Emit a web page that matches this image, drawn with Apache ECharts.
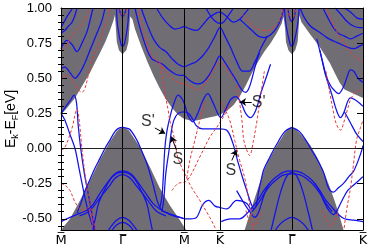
<!DOCTYPE html>
<html><head><meta charset="utf-8">
<script src="https://cdn.jsdelivr.net/npm/echarts@6/dist/echarts.min.js"></script>
<style>html,body{margin:0;padding:0;background:#fff}#c{width:374px;height:248px}</style>
</head><body><div id="c"></div>
<script>
// ---- axes ----
const kTicks = [0, 1, 2, 2.58, 3.745, 4.9];
const kLabels = ['M\u0305', '\u0393\u0305', 'M\u0305', 'K\u0305', '\u0393\u0305', 'K\u0305'];
const eTicks = [-0.5, -0.25, 0, 0.25, 0.5, 0.75, 1.0];
const eMinor = [-0.55,-0.45,-0.4,-0.35,-0.3,-0.2,-0.15,-0.1,-0.05,0.05,0.1,0.15,0.2,0.3,0.35,0.4,0.45,0.55,0.6,0.65,0.7,0.8,0.85,0.9,0.95];

// ---- projected bulk regions ----
const conductionEdge = [[0,0.24],[0.1,0.29],[0.227,0.36],[0.35,0.45],[0.47,0.54],[0.55,0.61],[0.632,0.68],[0.72,0.76],[0.794,0.84],[0.85,0.91],[0.875,0.95],[0.885,0.95],[0.89,0.86],[0.905,0.76],[0.94,0.70],[1.0,0.67],[1.06,0.70],[1.095,0.76],[1.11,0.86],[1.12,0.94],[1.14,0.95],[1.16,0.92],[1.2,0.85],[1.3,0.73],[1.4,0.62],[1.5,0.52],[1.6,0.43],[1.7,0.35],[1.8,0.29],[1.9,0.24],[2.0,0.21],[2.1,0.20],[2.2,0.20],[2.3,0.21],[2.4,0.22],[2.5,0.23],[2.58,0.24],[2.7,0.27],[2.8,0.31],[2.9,0.37],[3.0,0.45],[3.1,0.54],[3.2,0.62],[3.3,0.69],[3.4,0.75],[3.5,0.82],[3.58,0.89],[3.61,0.94],[3.625,0.95],[3.635,0.86],[3.65,0.76],[3.69,0.70],[3.745,0.67],[3.8,0.70],[3.84,0.76],[3.855,0.86],[3.865,0.95],[3.88,0.95],[3.9,0.90],[4.03,0.82],[4.2,0.72],[4.36,0.61],[4.45,0.53],[4.52,0.47],[4.6,0.42],[4.75,0.39],[4.9,0.36]];
const valenceEdge = [[0,-0.58],[0.03,-0.58],[0.146,-0.50],[0.308,-0.37],[0.47,-0.23],[0.632,-0.08],[0.794,0.05],[0.9,0.12],[0.95,0.14],[1.0,0.15],[1.05,0.145],[1.1,0.13],[1.28,0.01],[1.44,-0.13],[1.6,-0.28],[1.76,-0.40],[1.93,-0.51],[2.03,-0.58],[2.98,-0.58],[3.094,-0.42],[3.191,-0.29],[3.289,-0.16],[3.386,-0.07],[3.499,0.02],[3.628,0.11],[3.69,0.14],[3.745,0.15],[3.8,0.14],[3.872,0.11],[4.05,0.02],[4.163,-0.07],[4.26,-0.16],[4.357,-0.27],[4.438,-0.37],[4.519,-0.48],[4.584,-0.58],[4.9,-0.58]];

// ---- slab bands (blue, solid) ----
const bandMG1 = [[0,0.86],[0.05,0.90],[0.1,0.94],[0.16,0.98],[0.19,1.0]];
const bandMG2 = [[0,0.82],[0.06,0.84],[0.12,0.87],[0.18,0.90],[0.22,0.94],[0.26,1.0]];
const bandMG3 = [[0,0.71],[0.097,0.77],[0.178,0.74],[0.259,0.69],[0.34,0.75],[0.421,0.83],[0.47,0.91],[0.518,1.0]];
const bandMG4 = [[0,0.57],[0.065,0.58],[0.146,0.54],[0.227,0.50],[0.308,0.54],[0.389,0.61],[0.47,0.70],[0.583,0.82],[0.664,0.91],[0.713,1.0]];
const bandMG5 = [[0,0.25],[0.065,0.20],[0.146,0.10],[0.227,0.0],[0.292,-0.14],[0.356,-0.28],[0.437,-0.44],[0.518,-0.56],[0.551,-0.6]];
const bandMG6 = [[0,0.25],[0.08,0.30],[0.162,0.35],[0.21,0.38],[0.25,0.33],[0.28,0.16],[0.32,0.0],[0.38,-0.18],[0.44,-0.32],[0.5,-0.46],[0.56,-0.6]];
const bandArc1a = [[0,-0.52],[0.146,-0.49],[0.308,-0.46],[0.421,-0.44],[0.518,-0.40],[0.632,-0.32],[0.761,-0.24],[0.875,-0.18],[1.0,-0.16],[1.134,-0.18],[1.247,-0.24],[1.377,-0.32],[1.49,-0.39],[1.604,-0.43],[1.733,-0.46],[1.863,-0.48],[2.0,-0.50]];
const bandArc1b = [[0.3,-0.48],[0.45,-0.45],[0.55,-0.40],[0.65,-0.34],[0.78,-0.27],[0.88,-0.21],[1.0,-0.185],[1.12,-0.21],[1.23,-0.27],[1.36,-0.34],[1.46,-0.40],[1.56,-0.45],[1.7,-0.48]];
const bandEdge1 = [[0.26,-0.46],[0.33,-0.38],[0.389,-0.30],[0.47,-0.22],[0.55,-0.14],[0.632,-0.07],[0.713,0.0],[0.794,0.06],[0.875,0.12],[0.94,0.145],[1.0,0.15],[1.06,0.145],[1.118,0.135],[1.231,0.06],[1.312,-0.02],[1.393,-0.107],[1.49,-0.25],[1.571,-0.386],[1.636,-0.44],[1.72,-0.46],[1.83,-0.48],[1.93,-0.49],[2.0,-0.50]];
const bandDeep1 = [[0.74,-0.6],[0.82,-0.55],[0.9,-0.51],[1.0,-0.49],[1.1,-0.51],[1.18,-0.55],[1.26,-0.6]];
const bandDeep1b = [[0.8,-0.6],[0.9,-0.545],[1.0,-0.525],[1.1,-0.545],[1.2,-0.6]];
const bandSteep1 = [[0.51,-0.6],[0.56,-0.49],[0.61,-0.39],[0.7,-0.30],[0.8,-0.22],[0.9,-0.18],[1.0,-0.17],[1.1,-0.18],[1.2,-0.22],[1.3,-0.30],[1.39,-0.39],[1.44,-0.49],[1.49,-0.6]];
const bandTongue1 = [[0.90,1.0],[0.92,0.87],[0.975,0.74],[1.0,0.73],[1.025,0.74],[1.08,0.87],[1.1,1.0]];
const bandTop1 = [[0.94,1.0],[0.97,0.955],[1.0,0.94],[1.03,0.955],[1.06,1.0]];
const bandGM1 = [[1.2,1.0],[1.28,0.86],[1.39,0.71],[1.47,0.64],[1.55,0.62],[1.65,0.60],[1.75,0.56],[1.85,0.53],[1.93,0.52],[2.0,0.52]];
const bandGM2 = [[1.3,1.0],[1.4,0.88],[1.5,0.78],[1.6,0.72],[1.7,0.69],[1.8,0.64],[1.9,0.60],[2.0,0.58]];
const bandGM3 = [[1.55,1.0],[1.65,0.93],[1.75,0.88],[1.85,0.85],[1.95,0.86],[2.0,0.87]];
const bandMK1 = [[2.0,0.52],[2.1,0.48],[2.2,0.46],[2.3,0.47],[2.4,0.52],[2.5,0.60],[2.58,0.66],[2.65,0.62],[2.75,0.55],[2.85,0.48],[2.9,0.44],[2.95,0.41],[3.0,0.40],[3.05,0.43],[3.1,0.50],[3.16,0.60],[3.22,0.68]];
const bandMK2 = [[2.0,0.58],[2.1,0.60],[2.2,0.62],[2.3,0.66],[2.4,0.72],[2.5,0.80],[2.58,0.86],[2.66,0.80],[2.75,0.72],[2.85,0.62],[2.95,0.55],[3.05,0.55],[3.15,0.62],[3.25,0.72],[3.35,0.8]];
const bandMK3 = [[2.0,0.87],[2.1,0.85],[2.2,0.84],[2.3,0.88],[2.4,0.93],[2.5,0.96],[2.58,0.97],[2.66,0.95],[2.8,0.90],[2.9,0.92],[3.0,0.97],[3.05,1.0]];
const bandMK4 = [[2.35,1.0],[2.45,0.93],[2.52,0.90],[2.58,0.89],[2.64,0.90],[2.72,0.95],[2.8,1.0]];
const bandSprime = [[1.604,-0.42],[1.636,-0.35],[1.66,-0.2],[1.685,0.0],[1.717,0.12],[1.766,0.22],[1.831,0.32],[1.9,0.38],[1.993,0.33],[2.057,0.24],[2.138,0.19],[2.219,0.25],[2.3,0.34],[2.381,0.39],[2.462,0.33],[2.543,0.25],[2.592,0.22],[2.673,0.28],[2.754,0.35],[2.835,0.37],[2.916,0.33],[2.997,0.25],[3.078,0.22],[3.159,0.27],[3.24,0.39],[3.34,0.52],[3.4,0.6]];
const bandS = [[1.636,-0.45],[1.668,-0.36],[1.70,-0.18],[1.757,0.0],[1.79,0.12],[1.83,0.2],[1.9,0.25],[2.0,0.26],[2.07,0.25],[2.122,0.22],[2.2,0.16],[2.3,0.14],[2.414,0.14],[2.576,0.14],[2.69,0.13],[2.787,0.04],[2.867,-0.09],[2.948,-0.21],[3.029,-0.32],[3.09,-0.40],[3.13,-0.43],[3.17,-0.40],[3.21,-0.30],[3.25,-0.22],[3.29,-0.15],[3.39,-0.06],[3.5,0.03],[3.63,0.12],[3.745,0.15]];
const bandEdge2R = [[3.745,0.15],[3.87,0.12],[4.0,0.04],[4.05,0.0],[4.16,-0.08],[4.26,-0.17],[4.34,-0.28],[4.42,-0.31],[4.5,-0.28],[4.58,-0.25],[4.67,-0.2],[4.75,-0.16],[4.86,-0.04],[4.9,0.02]];
const bandArc2a = [[2.6,-0.52],[2.75,-0.50],[2.9,-0.50],[3.0,-0.47],[3.1,-0.42],[3.19,-0.37],[3.29,-0.30],[3.4,-0.24],[3.5,-0.20],[3.6,-0.17],[3.745,-0.16],[3.89,-0.17],[4.0,-0.20],[4.1,-0.24],[4.2,-0.30],[4.3,-0.37],[4.4,-0.42],[4.5,-0.47],[4.6,-0.50],[4.75,-0.51],[4.9,-0.52]];
const bandArc2b = [[3.1,-0.45],[3.2,-0.39],[3.3,-0.32],[3.4,-0.26],[3.5,-0.22],[3.6,-0.19],[3.745,-0.18],[3.89,-0.19],[4.0,-0.22],[4.1,-0.26],[4.2,-0.32],[4.3,-0.39],[4.4,-0.45]];
const bandDeep2 = [[3.45,-0.6],[3.55,-0.54],[3.65,-0.505],[3.745,-0.49],[3.84,-0.505],[3.94,-0.54],[4.04,-0.6]];
const bandSteep2 = [[3.4,-0.6],[3.48,-0.45],[3.57,-0.30],[3.66,-0.20],[3.745,-0.17],[3.83,-0.20],[3.92,-0.30],[4.01,-0.45],[4.09,-0.6]];
const bandW2L = [[2.85,-0.30],[2.93,-0.36],[3.0,-0.41],[3.08,-0.46],[3.14,-0.49],[3.2,-0.46],[3.26,-0.38],[3.32,-0.3],[3.38,-0.25]];
const bandW2R = [[4.12,-0.25],[4.2,-0.31],[4.28,-0.39],[4.36,-0.45],[4.42,-0.47],[4.48,-0.44],[4.56,-0.37],[4.65,-0.3],[4.75,-0.26],[4.85,-0.22],[4.9,-0.2]];
const bandMKlow = [[2.0,-0.50],[2.1,-0.50],[2.2,-0.49],[2.3,-0.40],[2.4,-0.37],[2.5,-0.41],[2.58,-0.42],[2.69,-0.43],[2.85,-0.37],[3.01,-0.39],[3.08,-0.44]];
const bandTongue2 = [[3.625,1.0],[3.655,0.87],[3.72,0.74],[3.745,0.73],[3.77,0.74],[3.835,0.87],[3.865,1.0]];
const bandTop2 = [[3.68,1.0],[3.71,0.93],[3.745,0.905],[3.78,0.93],[3.81,1.0]];
const bandKG1 = [[2.9,0.92],[3.0,0.88],[3.1,0.84],[3.2,0.80],[3.3,0.79],[3.4,0.81],[3.5,0.86],[3.58,0.94],[3.61,1.0]];
const bandGK1 = [[3.88,1.0],[3.95,0.93],[4.05,0.87],[4.15,0.84],[4.25,0.81],[4.35,0.78],[4.45,0.76],[4.55,0.74],[4.65,0.72],[4.75,0.71],[4.85,0.73],[4.9,0.74]];
const bandGK2 = [[4.25,1.0],[4.33,0.93],[4.42,0.86],[4.5,0.82],[4.6,0.80],[4.7,0.78],[4.8,0.80],[4.9,0.82]];
const bandGK3 = [[4.45,1.0],[4.55,0.95],[4.65,0.90],[4.75,0.87],[4.85,0.86],[4.9,0.86]];
const bandGK4 = [[4.6,1.0],[4.7,0.97],[4.8,0.93],[4.9,0.92]];
const bandGKgapA = [[4.15,0.78],[4.22,0.66],[4.309,0.51],[4.37,0.45],[4.422,0.42],[4.503,0.39],[4.584,0.44],[4.65,0.52],[4.697,0.56],[4.75,0.55],[4.82,0.50],[4.9,0.47]];
const bandGKgapB = [[4.2,0.70],[4.25,0.60],[4.293,0.52],[4.39,0.39],[4.471,0.27],[4.536,0.22],[4.584,0.25],[4.697,0.36],[4.795,0.34],[4.9,0.30]];
const bandGKgapC = [[4.6,0.26],[4.7,0.18],[4.8,0.10],[4.9,0.05]];

// ---- reference bands (red, dashed) ----
const redMG1 = [[0,0.50],[0.097,0.52],[0.178,0.49],[0.259,0.43],[0.34,0.40],[0.389,0.43],[0.437,0.51],[0.518,0.64],[0.632,0.77],[0.745,0.91],[0.8,1.0]];
const redMG2 = [[0,0.70],[0.08,0.73],[0.146,0.78],[0.227,0.83],[0.308,0.87],[0.389,0.92],[0.47,1.0]];
const redMG3 = [[0,-0.01],[0.05,0.0],[0.097,0.04],[0.146,0.10],[0.194,0.17],[0.227,0.24],[0.259,0.28],[0.28,0.25],[0.308,0.15],[0.34,0.0],[0.389,-0.18],[0.44,-0.32],[0.49,-0.44],[0.53,-0.52],[0.57,-0.6]];
const redMG4 = [[0,-0.25],[0.065,-0.26],[0.146,-0.30],[0.227,-0.38],[0.308,-0.43],[0.389,-0.44],[0.437,-0.42],[0.47,-0.45],[0.5,-0.52],[0.52,-0.6]];
const redG1top = [[0.93,1.0],[0.965,0.96],[1.0,0.945],[1.035,0.96],[1.07,1.0]];
const redGM1 = [[1.25,1.0],[1.33,0.85],[1.42,0.72],[1.5,0.65],[1.6,0.60],[1.7,0.55],[1.8,0.50],[1.9,0.47],[2.0,0.46],[2.1,0.44],[2.2,0.42],[2.3,0.44],[2.4,0.50],[2.5,0.58],[2.58,0.62],[2.7,0.55],[2.8,0.50]];
const redR5 = [[1.60,0.62],[1.65,0.50],[1.70,0.36],[1.74,0.27],[1.766,0.2],[1.847,0.057],[1.895,-0.064],[2.041,-0.21],[2.122,-0.28],[2.252,-0.37],[2.414,-0.49],[2.495,-0.56],[2.53,-0.6]];
const redR7 = [[2.33,0.33],[2.29,0.26],[2.252,0.2],[2.171,0.057],[2.09,-0.086],[2.041,-0.21]];
const redR6 = [[1.80,-0.30],[1.895,-0.25],[2.041,-0.23],[2.252,-0.06],[2.414,0.08],[2.527,0.15],[2.6,0.2],[2.68,0.26],[2.75,0.32]];
const redK1 = [[2.6,0.33],[2.66,0.28],[2.738,0.20],[2.819,0.057],[2.9,-0.086],[2.981,-0.21],[3.029,-0.32],[3.07,-0.42],[3.1,-0.5],[3.12,-0.6]];
const redKG1 = [[2.85,0.45],[2.9,0.32],[2.94,0.18],[2.965,0.06],[3.013,-0.01],[3.06,-0.05],[3.12,0.05],[3.18,0.2],[3.24,0.38],[3.3,0.55]];
const redGK1 = [[4.3,0.55],[4.36,0.40],[4.42,0.26],[4.471,0.17],[4.536,0.13],[4.584,0.18],[4.65,0.28],[4.7,0.35],[4.78,0.40],[4.9,0.42]];
const redKrise = [[4.584,-0.6],[4.633,-0.44],[4.697,-0.28],[4.746,-0.11],[4.795,0.06],[4.86,0.15],[4.9,0.2]];
const redW1 = [[3.0,-0.44],[3.06,-0.52],[3.13,-0.55],[3.2,-0.5],[3.26,-0.44]];
const redW2 = [[4.23,-0.44],[4.3,-0.5],[4.37,-0.55],[4.44,-0.52],[4.5,-0.44]];
const redGKtop = [[4.3,1.0],[4.45,0.85],[4.6,0.75],[4.75,0.66],[4.9,0.62]];
const redG2top = [[3.675,1.0],[3.71,0.94],[3.745,0.92],[3.78,0.94],[3.815,1.0]];
const redKG2 = [[2.95,0.95],[3.05,0.9],[3.2,0.85],[3.35,0.84],[3.5,0.88],[3.58,0.95],[3.6,1.0]];

// ---- annotations ----
const annoText = ["S'", 'S', "S'", 'S'];
const annoPos = [[1.409,0.19],[1.895,-0.08],[3.208,0.33],[2.754,-0.16]];
const arrowFrom = [[1.523,0.146],[1.873,-0.01],[3.094,0.331],[2.772,-0.085]];
const arrowTo = [[1.69,0.107],[1.79,0.085],[2.905,0.331],[2.846,-0.01]];

const blueBands = [bandMG1,bandMG2,bandMG3,bandMG4,bandMG5,bandMG6,bandArc1a,bandArc1b,bandEdge1,bandDeep1,bandDeep1b,bandSteep1,bandTongue1,bandTop1,bandGM1,bandGM2,bandGM3,bandMK1,bandMK2,bandMK3,bandMK4,bandSprime,bandS,bandEdge2R,bandArc2a,bandArc2b,bandDeep2,bandSteep2,bandW2L,bandW2R,bandMKlow,bandTongue2,bandTop2,bandKG1,bandGK1,bandGK2,bandGK3,bandGK4,bandGKgapA,bandGKgapB,bandGKgapC];
const redBands = [redMG1,redMG2,redMG3,redMG4,redG1top,redGM1,redR5,redR7,redR6,redK1,redKG1,redGK1,redKrise,redW1,redW2,redGKtop,redG2top,redKG2];

const GRAY = '#716d75', BLUE = '#1212ee', RED = '#e53a3a';
const FONT = '"Liberation Sans", Arial, "DejaVu Sans", sans-serif';
const KFONT = '"DejaVu Sans", sans-serif';

function kLabel(v) {
  let best = 0, d = 1e9;
  kTicks.forEach((t, i) => { const dd = Math.abs(t - v); if (dd < d) { d = dd; best = i; } });
  return kLabels[best];
}

const series = [];
series.push({type:'line', data: conductionEdge, symbol:'none', silent:true, z:1,
  lineStyle:{width:0}, areaStyle:{color:GRAY, opacity:1, origin:'end'}});
series.push({type:'line', data: valenceEdge, symbol:'none', silent:true, z:1,
  lineStyle:{width:0}, areaStyle:{color:GRAY, opacity:1, origin:'start'}});
blueBands.forEach(d => series.push({type:'line', data:d, smooth:0.35, symbol:'none', silent:true, z:3,
  lineStyle:{color:BLUE, width:1.25}}));
redBands.forEach(d => series.push({type:'line', data:d, smooth:0.35, symbol:'none', silent:true, z:4,
  lineStyle:{color:RED, width:1, type:[3,2]}}));
series.push({type:'line', data:[], symbol:'none', z:6, silent:true,
  markLine:{silent:true, symbol:'none', label:{show:false}, animation:false,
    lineStyle:{color:'#000', width:1, type:'solid'},
    data: kTicks.slice(1, -1).map(v => ({xAxis: v})).concat([{yAxis: 0, lineStyle:{color:'#222', width:1}}])}});
series.push({type:'scatter', z:7, silent:true, symbolSize:0,
  data: annoPos.map((p, i) => ({value:p, name:annoText[i]})),
  label:{show:true, position:'inside', formatter: p => p.name, color:'#000', fontSize:16, fontFamily:FONT},
  markLine:{silent:true, symbol:['none','arrow'], symbolSize:6, label:{show:false}, animation:false,
    lineStyle:{color:'#000', width:1, type:'solid'},
    data: arrowFrom.map((f, i) => [{coord:f}, {coord:arrowTo[i]}])}});

const yBase = {type:'value', min:-0.58, max:1.0, splitLine:{show:false}, z:10};
const tickStyle = {color:'#000', width:1};
const option = {
  animation:false,
  grid:{left:61, right:11, top:8, bottom:18, outerBoundsMode:'none', containLabel:false},
  xAxis:[
    {type:'value', min:0, max:4.9, position:'bottom', z:10, splitLine:{show:false},
     axisLine:{show:true, onZero:false, lineStyle:{color:'#000', width:1}}, axisTick:{show:false},
     axisLabel:{customValues:kTicks, formatter:v => kLabel(v), color:'#000', fontSize:13, fontFamily:KFONT, margin:4}},
    {type:'value', min:0, max:4.9, position:'top', z:10, splitLine:{show:false},
     axisLine:{show:true, onZero:false, lineStyle:{color:'#000', width:1}}, axisTick:{show:false}, axisLabel:{show:false}}
  ],
  yAxis:[
    Object.assign({}, yBase, {position:'left',
      axisLine:{show:true, onZero:false, lineStyle:{color:'#000', width:1}},
      axisTick:{show:true, inside:true, length:6, customValues:eTicks, lineStyle:tickStyle},
      axisLabel:{customValues:eTicks, formatter:v => v.toFixed(2), color:'#000', fontSize:13, fontFamily:FONT, margin:9},
      name:'{n|E}{s|k}{n|-E}{s|F}{n|[eV]}', nameLocation:'middle', nameGap:41, nameRotate:90, nameMoveOverlap:false,
      nameTextStyle:{color:'#000', fontFamily:FONT, fontSize:14,
        rich:{n:{fontSize:14, color:'#000', fontFamily:FONT}, s:{fontSize:9, color:'#000', fontFamily:FONT, padding:[8,0,0,0]}}}}),
    Object.assign({}, yBase, {position:'left', axisLine:{show:false},
      axisTick:{show:true, inside:true, length:3, customValues:eMinor, lineStyle:tickStyle}, axisLabel:{show:false}}),
    Object.assign({}, yBase, {position:'right',
      axisLine:{show:true, onZero:false, lineStyle:{color:'#000', width:1}},
      axisTick:{show:true, inside:true, length:6, customValues:eTicks, lineStyle:tickStyle}, axisLabel:{show:false}}),
    Object.assign({}, yBase, {position:'right', axisLine:{show:false},
      axisTick:{show:true, inside:true, length:3, customValues:eMinor, lineStyle:tickStyle}, axisLabel:{show:false}})
  ],
  series: series
};
const chart = echarts.init(document.getElementById('c'), null, {renderer:'canvas'});
chart.setOption(option);
</script></body></html>
